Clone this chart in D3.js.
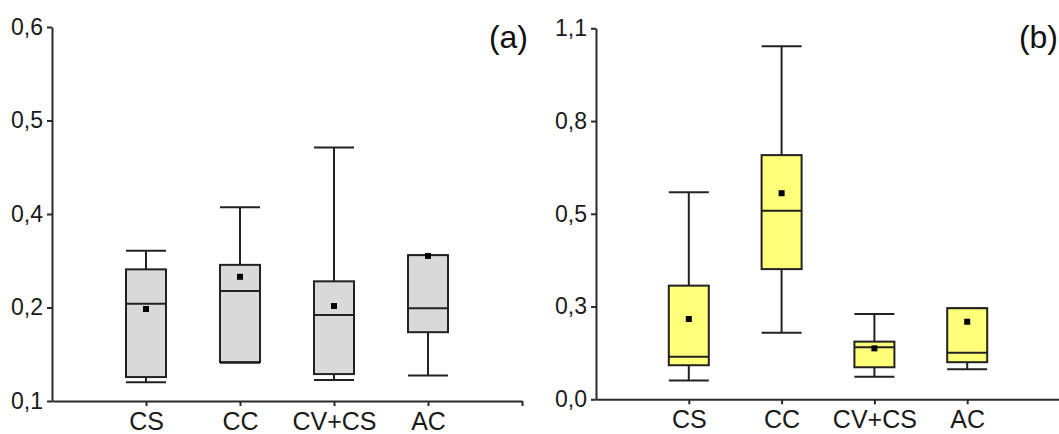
<!DOCTYPE html>
<html>
<head>
<meta charset="utf-8">
<script src="https://cdn.jsdelivr.net/npm/d3@7"></script>
<style>
  body { margin: 0; background: #fff; }
  svg { display: block; font-family: "Liberation Sans", Arial, sans-serif; }
  .axis path, .axis line { stroke: #2a2a2a; stroke-width: 2; }
  .axis text { fill: #1a1a1a; }
  .box { stroke: #222; stroke-width: 2; }
  .whisker { stroke: #222; stroke-width: 2; }
</style>
</head>
<body>
<div id="chart"></div>
<script>
(function (d3) {
    'use strict';

    var categories = ['CS', 'CC', 'CV+CS', 'AC'];

    // Panel (a)
    var aWhiskerLow  = [0.125, 0.151, 0.128, 0.134];
    var aQ1          = [0.132, 0.152, 0.136, 0.192];
    var aMedian      = [0.230, 0.247, 0.215, 0.224];
    var aQ3          = [0.276, 0.282, 0.260, 0.295];
    var aWhiskerHigh = [0.301, 0.359, 0.439, 0.295];
    var aMean        = [0.223, 0.266, 0.227, 0.294];
    var aTickValues  = [0.1, 0.225, 0.35, 0.475, 0.6];
    var aTickLabels  = ['0,1', '0,2', '0,4', '0,5', '0,6'];

    // Panel (b)
    var bWhiskerLow  = [0.056, 0.197, 0.067, 0.089];
    var bQ1          = [0.101, 0.386, 0.095, 0.110];
    var bMedian      = [0.126, 0.559, 0.154, 0.138];
    var bQ3          = [0.337, 0.724, 0.171, 0.270];
    var bWhiskerHigh = [0.614, 1.047, 0.253, 0.270];
    var bMean        = [0.238, 0.611, 0.151, 0.230];
    var bTickValues  = [0, 0.275, 0.55, 0.825, 1.1];
    var bTickLabels  = ['0,0', '0,3', '0,5', '0,8', '1,1'];

    var svg = d3.select('#chart').append('svg')
        .attr('width', 1059)
        .attr('height', 434);

    function drawPanel(opts) {
        var x = d3.scaleLinear().domain([0, 5]).range(opts.xRange);
        var y = d3.scaleLinear().domain(opts.yDomain).range(opts.yRange);
        var boxWidth = 40;

        var rows = categories.map(function (c, i) {
            return {
                pos: i + 1,
                lo: opts.lo[i], q1: opts.q1[i], med: opts.med[i],
                q3: opts.q3[i], hi: opts.hi[i], mean: opts.mean[i]
            };
        });

        // x-axis
        svg.append('g')
            .attr('class', 'axis')
            .attr('transform', 'translate(0,' + opts.yRange[0] + ')')
            .call(d3.axisBottom(x)
                .tickValues([1, 2, 3, 4, 5])
                .tickFormat(function (d) { return categories[d - 1] || ''; })
                .tickSize(5)
                .tickSizeOuter(0)
                .tickPadding(6))
            .call(function (g) {
                g.selectAll('text').attr('font-size', 25).attr('font-family', null);
            });

        // y-axis
        svg.append('g')
            .attr('class', 'axis')
            .attr('transform', 'translate(' + opts.xRange[0] + ',0)')
            .call(d3.axisLeft(y)
                .tickValues(opts.tickValues)
                .tickFormat(function (d, i) { return opts.tickLabels[i]; })
                .tickSize(5)
                .tickSizeOuter(0)
                .tickPadding(4))
            .call(function (g) {
                g.selectAll('text').attr('font-size', 23).attr('font-family', null);
            });

        var g = svg.append('g');
        var item = g.selectAll('.item').data(rows).enter().append('g');

        // whisker stems
        item.append('line')
            .attr('class', 'whisker')
            .attr('x1', function (d) { return x(d.pos); })
            .attr('x2', function (d) { return x(d.pos); })
            .attr('y1', function (d) { return y(d.q3); })
            .attr('y2', function (d) { return y(d.hi); });
        item.append('line')
            .attr('class', 'whisker')
            .attr('x1', function (d) { return x(d.pos); })
            .attr('x2', function (d) { return x(d.pos); })
            .attr('y1', function (d) { return y(d.q1); })
            .attr('y2', function (d) { return y(d.lo); });

        // caps
        ['hi', 'lo'].forEach(function (k) {
            item.append('line')
                .attr('class', 'whisker')
                .attr('x1', function (d) { return x(d.pos) - boxWidth / 2; })
                .attr('x2', function (d) { return x(d.pos) + boxWidth / 2; })
                .attr('y1', function (d) { return y(d[k]); })
                .attr('y2', function (d) { return y(d[k]); });
        });

        // boxes
        item.append('rect')
            .attr('class', 'box')
            .attr('fill', opts.fill)
            .attr('x', function (d) { return x(d.pos) - boxWidth / 2; })
            .attr('width', boxWidth)
            .attr('y', function (d) { return y(d.q3); })
            .attr('height', function (d) { return y(d.q1) - y(d.q3); });

        // medians
        item.append('line')
            .attr('class', 'whisker')
            .attr('x1', function (d) { return x(d.pos) - boxWidth / 2; })
            .attr('x2', function (d) { return x(d.pos) + boxWidth / 2; })
            .attr('y1', function (d) { return y(d.med); })
            .attr('y2', function (d) { return y(d.med); });

        // means
        item.append('rect')
            .attr('fill', '#000')
            .attr('x', function (d) { return x(d.pos) - 3; })
            .attr('y', function (d) { return y(d.mean) - 3; })
            .attr('width', 6)
            .attr('height', 6);

        svg.append('text')
            .attr('x', opts.labelX)
            .attr('y', 48)
            .attr('text-anchor', 'end')
            .attr('font-size', 32)
            .attr('fill', '#111')
            .text(opts.label);
    }

    drawPanel({
        xRange: [52, 522], yRange: [401, 27], yDomain: [0.1, 0.6],
        lo: aWhiskerLow, q1: aQ1, med: aMedian, q3: aQ3, hi: aWhiskerHigh, mean: aMean,
        tickValues: aTickValues, tickLabels: aTickLabels,
        fill: '#d9d9d9', label: '(a)', labelX: 528
    });

    drawPanel({
        xRange: [596, 1060], yRange: [399.3, 28.3], yDomain: [0, 1.1],
        lo: bWhiskerLow, q1: bQ1, med: bMedian, q3: bQ3, hi: bWhiskerHigh, mean: bMean,
        tickValues: bTickValues, tickLabels: bTickLabels,
        fill: '#ffff7a', label: '(b)', labelX: 1058
    });

})(d3);
</script>
</body>
</html>
